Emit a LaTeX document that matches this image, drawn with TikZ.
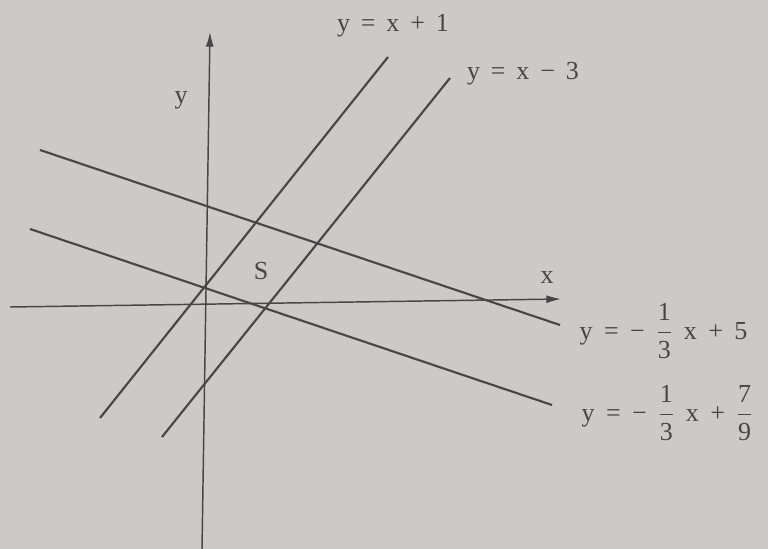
\documentclass[tikz,border=0pt]{standalone}
\usepackage{amsmath}
\usepackage{fontspec}
\setmainfont{Liberation Serif}
\usetikzlibrary{arrows.meta}
\definecolor{paper}{RGB}{204,202,199}
\definecolor{ink}{RGB}{72,70,70}
\tikzset{
  graph/.style={draw=ink, line width=1.6pt},
  axis/.style={draw=ink, line width=1.1pt, -{Latex[length=11pt,width=6pt]}},
  lbl/.style={text=ink, font=\fontsize{19.5}{22}\selectfont, inner sep=1pt},
}
\newcommand{\fr}[2]{$\displaystyle\frac{\textrm{#1}}{\textrm{#2}}$}
\newcommand{\gp}{\hspace{0.42em}}
\newcommand{\gq}{\hspace{0.44em}}
\begin{document}
\begin{tikzpicture}[x=0.75pt,y=-0.75pt]
\fill[paper] (0,0) rectangle (768,549);
\useasboundingbox (0,0) rectangle (768,549);
% axes
\coordinate (xs) at (10,307);
\coordinate (xe) at (561,299);
\coordinate (ys) at (202,549);
\coordinate (ye) at (210,32);
\draw[axis] (xs) -- (xe);
\draw[axis] (ys) -- (ye);
\node[lbl] (xl) at (547,278) {x};
\node[lbl] (yl) at (181,100) {y};
% lines
\coordinate (a1) at (100,418); \coordinate (a2) at (388,57);
\coordinate (b1) at (162,437); \coordinate (b2) at (450,78);
\coordinate (c1) at (40,150);  \coordinate (c2) at (560,325);
\coordinate (d1) at (30,229);  \coordinate (d2) at (552,405);
\draw[graph] (a1) -- (a2);
\draw[graph] (b1) -- (b2);
\draw[graph] (c1) -- (c2);
\draw[graph] (d1) -- (d2);
\node[lbl] (S) at (261,271) {S};
\node[lbl] (la) at (393,26) {y\gp=\gp x\gp+\gp1};
\node[lbl] (lb) at (523,74) {y\gp=\gp x\gp−\gp3};
\node[lbl, anchor=west] (lc) at (578,331) {y\gq=\gq−\gq\fr{1}{3}\gq x\gq+\gq5};
\node[lbl, anchor=west] (ld) at (580,413) {y\gq=\gq−\gq\fr{1}{3}\gq x\gq+\gq\fr{7}{9}};
\end{tikzpicture}
\end{document}
